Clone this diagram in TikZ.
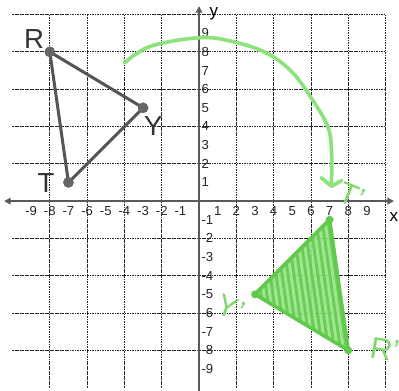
\documentclass[tikz,border=0pt]{standalone}
\usepackage{fontspec}
\setmainfont{Liberation Sans}
\usetikzlibrary{arrows.meta,calc}
\definecolor{axisgray}{HTML}{5A5A5A}
\definecolor{trigray}{HTML}{555555}
\definecolor{hand}{HTML}{8EE27C}
\definecolor{handdark}{HTML}{62C94F}
\definecolor{handfill}{HTML}{96E484}
\definecolor{handtext}{HTML}{7ED86B}
\tikzset{
  gridline/.style={black!85, line width=0.55pt, dash pattern=on 1.3pt off 0.6pt},
  axisline/.style={axisgray, line width=1.3pt, {Triangle[length=5pt,width=5pt]}-{Triangle[length=5pt,width=5pt]}},
  ticklbl/.style={font=\fontsize{10}{12}\selectfont, inner sep=0pt, text=black!85},
  vtx/.style={circle, fill=trigray!90, inner sep=0pt, minimum size=8pt},
  gvtx/.style={circle, fill=handdark, inner sep=0pt, minimum size=6pt},
  triedge/.style={trigray, line width=2.3pt},
  handlbl/.style={font=\fontsize{21}{21}\selectfont, inner sep=0pt, text=black!80},
  ghandlbl/.style={font=\fontsize{23}{23}\selectfont, inner sep=0pt, text=handtext},
  greenpen/.style={hand, line width=2.8pt, line cap=round, line join=round},
}
\begin{document}
\begin{tikzpicture}[x=0.5cm,y=0.5cm]
\useasboundingbox[fill=white] (-10.67,-10.18) rectangle (10.72,10.78);
% grid
\draw[gridline] (-10,-10) grid (10,10);
% axes
\draw[axisline] (-10.45,0) -- (10.45,0);
\draw[axisline] (0,-10.6) -- (0,10.45);
\node[font=\fontsize{13}{13}\selectfont, inner sep=0pt] (ylab) at (0.8,10.05) {y};
\node[font=\fontsize{13}{13}\selectfont, inner sep=0pt] (xlab) at (10.45,-0.85) {x};
% tick labels
\foreach \i in {1,...,9} {
  \node[ticklbl] (xp\i) at (\i,-0.55) {\i};
  \node[ticklbl] (xn\i) at (-\i,-0.55) {-\i};
  \node[ticklbl, anchor=west] (yp\i) at (0.12,\i) {\i};
  \node[ticklbl, anchor=west] (yn\i) at (0.12,-\i) {-\i};
}
% black triangle
\node[vtx] (R) at (-8,8) {};
\node[vtx] (Y) at (-3,5) {};
\node[vtx] (T) at (-7,1) {};
\draw[triedge] (R.center) -- (Y.center) -- (T.center) -- cycle;
\node[vtx] at (R) {};
\node[vtx] at (Y) {};
\node[vtx] at (T) {};
\node[handlbl] (Rl) at (-8.85,8.7) {R};
\node[handlbl] (Yl) at (-2.45,4.05) {Y};
\node[handlbl] (Tl) at (-8.2,0.95) {T};
% green triangle
\coordinate (Tp) at (7,-1);
\coordinate (Yp) at (3,-5);
\coordinate (Rp) at (8,-8);
\fill[handfill, opacity=0.9] (Tp) -- (Yp) -- (Rp) -- cycle;
\foreach \t in {0.07,0.14,...,0.98} {
  \draw[handdark, line width=2.2pt, line cap=round, opacity=0.85]
    ($(Yp)!\t!(Rp)$) -- ($(Yp)!\t!(Tp)$);
}
\draw[greenpen, handdark] (Tp) -- (Yp) -- (Rp) -- cycle;
\node[gvtx] (Tpv) at (Tp) {};
\node[gvtx] (Ypv) at (Yp) {};
\node[gvtx] (Rpv) at (Rp) {};
% green arc with arrow
\coordinate (arcS) at (-4.0,7.4);
\coordinate (arcE) at (7.1,0.8);
\draw[greenpen] plot[smooth, tension=0.6] coordinates {(arcS) (-2.6,8.3) (0.05,8.76) (1.8,8.55) (3.6,7.95) (5.0,6.9) (6.1,5.4) (6.9,4.0) (7.1,2.75) (arcE)};
\coordinate (ahL) at (6.55,1.25);
\coordinate (ahR) at (7.65,1.1);
\draw[greenpen] (ahL) -- (arcE) -- (ahR);
% green labels
\node[ghandlbl, rotate=-22] (Tpl) at (8.2,0.3) {T'};
\node[ghandlbl, rotate=-22] (Ypl) at (1.7,-5.75) {Y'};
\node[ghandlbl, rotate=-10] (Rpl) at (9.95,-7.95) {R'};
\end{tikzpicture}
\end{document}
